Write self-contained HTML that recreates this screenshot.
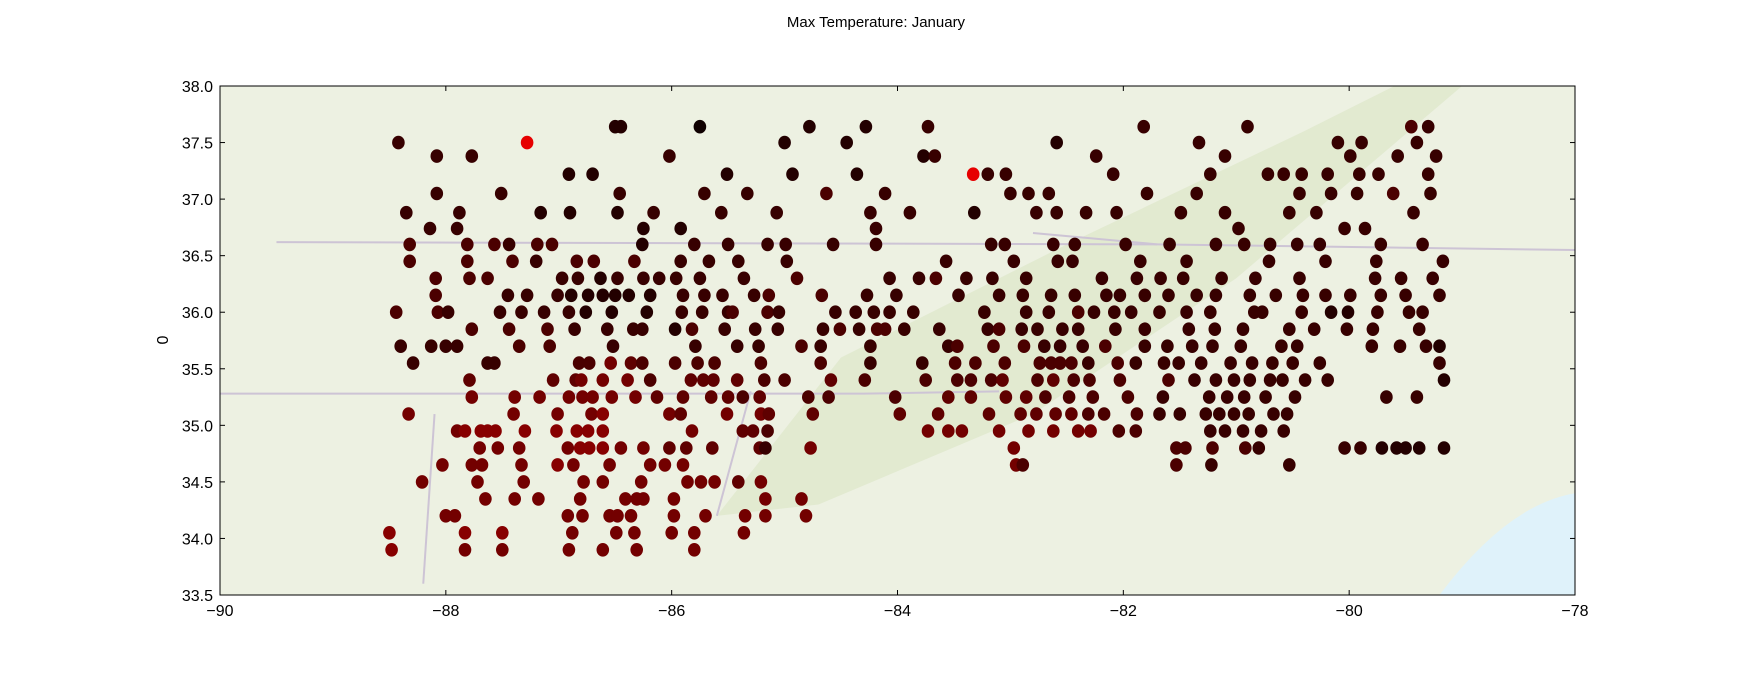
<!DOCTYPE html>
<html><head><meta charset="utf-8">
<style>
html,body{margin:0;padding:0;background:#fff;}
svg{display:block;font-family:"Liberation Sans",sans-serif;}
</style></head>
<body>
<svg id="chart" width="1750" height="682" viewBox="0 0 1750 682" xmlns="http://www.w3.org/2000/svg">
<rect width="1750" height="682" fill="#ffffff"/>
<text x="876" y="27" font-size="15" text-anchor="middle" fill="#000">Max Temperature: January</text>
<g id="mapbg"></g>
<g id="points"></g>
<g id="axes"></g>
</svg>
<script>
const xTicks = [-90, -88, -86, -84, -82, -80, -78];
const yTicks = [33.5, 34.0, 34.5, 35.0, 35.5, 36.0, 36.5, 37.0, 37.5, 38.0];
const rowLats = [37.64,37.5,37.38,37.22,37.05,36.88,36.74,36.6,36.45,36.3,36.15,36.0,35.85,35.7,35.55,35.4,35.25,35.1,34.95,34.8,34.65,34.5,34.35,34.2,34.05,33.9];
const rowLons = [
[-86.5,-86.45,-85.75,-84.78,-84.28,-83.73,-81.82,-80.9,-79.45,-79.3],
[-88.42,-87.28,-85.0,-84.45,-82.59,-81.33,-80.1,-79.89,-79.4],
[-88.08,-87.77,-86.02,-83.77,-83.67,-82.24,-81.1,-79.57,-79.23,-79.99],
[-86.91,-86.7,-85.51,-84.93,-84.36,-83.33,-83.2,-83.04,-82.09,-81.23,-80.72,-80.58,-80.42,-80.19,-79.91,-79.74,-79.3],
[-87.51,-88.08,-86.46,-85.71,-85.33,-84.63,-84.11,-83.0,-82.84,-82.66,-81.79,-81.35,-80.44,-80.16,-79.93,-79.61,-79.28],
[-88.35,-87.88,-87.16,-86.9,-86.48,-86.16,-85.56,-85.07,-84.24,-83.89,-83.32,-82.77,-82.59,-82.33,-82.06,-81.49,-81.1,-80.53,-80.29,-79.43],
[-88.14,-87.9,-86.25,-85.92,-84.19,-80.98,-80.04,-79.86],
[-88.32,-87.81,-87.57,-87.44,-87.19,-87.06,-86.26,-85.8,-85.5,-85.15,-84.99,-84.57,-84.19,-83.17,-83.05,-82.62,-82.43,-81.98,-81.59,-81.18,-80.93,-80.7,-80.46,-80.26,-79.72,-79.35],
[-88.32,-87.81,-87.41,-87.2,-86.84,-86.69,-86.33,-85.92,-85.67,-85.41,-84.98,-83.57,-82.97,-82.58,-82.45,-81.85,-81.44,-80.71,-80.21,-79.76,-79.17],
[-88.09,-87.79,-87.63,-86.97,-86.83,-86.63,-86.48,-86.25,-86.11,-85.96,-85.75,-85.36,-84.89,-84.07,-83.81,-83.66,-83.39,-83.16,-82.86,-82.19,-81.88,-81.67,-81.47,-81.13,-80.83,-80.44,-79.77,-79.54,-79.26],
[-88.09,-87.45,-87.28,-87.01,-86.89,-86.74,-86.61,-86.5,-86.38,-86.19,-85.9,-85.71,-85.55,-85.27,-85.14,-84.67,-84.27,-84.01,-83.46,-83.1,-82.89,-82.64,-82.43,-82.15,-82.03,-81.81,-81.6,-81.35,-81.18,-80.88,-80.65,-80.41,-80.21,-79.99,-79.72,-79.5,-79.2],
[-88.44,-88.07,-87.98,-87.52,-87.33,-87.13,-86.91,-86.76,-86.53,-86.22,-85.91,-85.73,-85.5,-85.46,-85.15,-85.05,-84.55,-84.37,-84.21,-84.07,-83.86,-83.23,-82.86,-82.66,-82.4,-82.26,-82.08,-81.93,-81.68,-81.44,-81.23,-80.84,-80.77,-80.42,-80.16,-80.01,-79.75,-79.47,-79.35],
[-87.77,-87.44,-87.1,-86.86,-86.57,-86.34,-86.26,-85.97,-85.82,-85.53,-85.26,-85.06,-84.66,-84.51,-84.34,-84.18,-84.11,-83.94,-83.63,-83.2,-83.1,-82.9,-82.76,-82.54,-82.4,-82.07,-81.81,-81.42,-81.19,-80.94,-80.53,-80.31,-80.02,-79.79,-79.38],
[-88.4,-88.13,-88.0,-87.9,-87.35,-87.08,-86.52,-85.79,-85.42,-85.23,-84.85,-84.68,-84.24,-83.55,-83.47,-83.15,-82.88,-82.7,-82.56,-82.36,-82.16,-81.81,-81.61,-81.39,-81.21,-80.96,-80.6,-80.46,-79.8,-79.55,-79.32,-79.2],
[-88.29,-87.63,-87.57,-86.82,-86.73,-86.54,-86.36,-86.26,-85.97,-85.77,-85.62,-85.21,-84.68,-84.24,-83.78,-83.49,-83.31,-83.05,-82.74,-82.64,-82.56,-82.46,-82.31,-82.05,-81.89,-81.64,-81.51,-81.31,-81.05,-80.86,-80.68,-80.5,-80.26,-79.2],
[-87.79,-87.05,-86.85,-86.8,-86.61,-86.39,-86.19,-85.83,-85.72,-85.63,-85.42,-85.18,-85.0,-84.59,-84.29,-83.75,-83.47,-83.35,-83.17,-83.07,-82.76,-82.62,-82.44,-82.3,-82.03,-81.6,-81.37,-81.18,-81.02,-80.88,-80.7,-80.59,-80.39,-80.19,-79.16],
[-87.77,-87.39,-87.17,-86.91,-86.79,-86.7,-86.53,-86.32,-86.13,-85.9,-85.65,-85.5,-85.37,-85.22,-84.79,-84.61,-84.02,-83.55,-83.35,-83.04,-82.86,-82.69,-82.48,-82.27,-81.96,-81.65,-81.24,-81.08,-80.93,-80.74,-80.48,-79.67,-79.4],
[-88.33,-87.4,-87.01,-86.71,-86.61,-86.02,-85.92,-85.51,-85.21,-85.14,-84.75,-83.98,-83.64,-83.19,-82.91,-82.77,-82.6,-82.46,-82.31,-82.17,-81.88,-81.68,-81.5,-81.27,-81.15,-81.02,-80.89,-80.67,-80.55],
[-87.9,-87.83,-87.69,-87.63,-87.56,-87.3,-87.02,-86.84,-86.74,-86.61,-85.82,-85.37,-85.28,-85.15,-83.73,-83.55,-83.43,-83.1,-82.84,-82.62,-82.4,-82.29,-82.04,-81.89,-81.23,-81.1,-80.94,-80.78,-80.58],
[-87.7,-87.54,-87.35,-86.92,-86.81,-86.73,-86.61,-86.45,-86.25,-86.02,-85.87,-85.64,-85.22,-85.17,-84.77,-82.97,-81.53,-81.45,-81.21,-80.92,-80.8,-80.04,-79.9,-79.71,-79.58,-79.5,-79.38,-79.16],
[-88.03,-87.77,-87.68,-87.33,-87.01,-86.87,-86.55,-86.19,-86.06,-85.9,-82.95,-82.89,-81.53,-81.22,-80.53],
[-88.21,-87.72,-87.31,-86.78,-86.61,-86.27,-85.86,-85.74,-85.62,-85.41,-85.21],
[-87.65,-87.39,-87.18,-86.81,-86.41,-86.31,-86.25,-85.98,-85.17,-84.85],
[-88.0,-87.92,-86.92,-86.79,-86.55,-86.48,-86.36,-85.98,-85.7,-85.35,-85.17,-84.81],
[-88.5,-87.83,-87.5,-86.88,-86.49,-86.33,-86.0,-85.8,-85.36],
[-88.48,-87.83,-87.5,-86.91,-86.61,-86.31,-85.8]
];
const rowTemps = [
"1101122232","291112222","2221222222","11111922222222222","22222322222222232",
"22111222221222222222","22112222","33323312222222222222222222","333233322222222222222",
"33322122222232232222222222222","3222111111222233222222222222222222222",
"3322222111222332222222223222222222112","33322221322223233222322222222222222",
"22223322223222333222322222222221122","22233543333332233333332322222222222",
"44455534444334333334343333222222221","555555554444343334444333322222222",
"55556545544444444433322222222","56666666665443555555553322222",
"5555666554444255333322211111","555565555553322","55555555545","5555555555",
"555555555555","666555555","6555555"
];
const X0=220,X1=1575,Y0=86,Y1=595;
function xs(v){return X0+(v-(-90))/12*(X1-X0);}
function ys(v){return Y1-(v-33.5)/4.5*(Y1-Y0);}
const NS="http://www.w3.org/2000/svg";
function mk(tag,attrs,parent){const e=document.createElementNS(NS,tag);for(const k in attrs)e.setAttribute(k,attrs[k]);parent.appendChild(e);return e;}

const bg=document.getElementById('mapbg');
const land=mk('rect',{x:X0,y:Y0,width:X1-X0,height:Y1-Y0,fill:'#edf1e2'},bg);


const ridge=mk('path',{d:`M ${xs(-85.6)} ${ys(34.2)} L ${xs(-84.5)} ${ys(35.6)} L ${xs(-82.5)} ${ys(36.6)} L ${xs(-80.4)} ${ys(37.6)} L ${xs(-79.6)} ${ys(38)} L ${xs(-79)} ${ys(38)} L ${xs(-81)} ${ys(36.3)} L ${xs(-82.8)} ${ys(35.1)} L ${xs(-84.7)} ${ys(34.3)} Z`,fill:'#dde7c9',opacity:0.7},bg);


const ocean=mk('path',{d:`M ${xs(-79.2)} ${Y1} Q ${xs(-78.6)} ${ys(34.3)} ${X1} ${ys(34.4)} L ${X1} ${Y1} Z`,fill:'#dff2fa'},bg);


const borders=[[[-89.5,36.62],[-81.7,36.6],[-78,36.55]],[[-90,35.28],[-84.3,35.28],[-83.1,35.3]],[[-88.2,33.6],[-88.1,35.1]],[[-85.6,34.2],[-85.3,35.3]],[[-82.8,36.7],[-81.7,36.6]]];
for(const b of borders){
  const p=mk('polyline',{points:b.map(q=>xs(q[0])+','+ys(q[1])).join(' '),fill:'none',stroke:'#cdc4d5',"stroke-width":2},bg);
  
  
}

const pg=document.getElementById('points');
for(let i=0;i<rowLats.length;i++){
  const lons=rowLons[i], ts=rowTemps[i];
  for(let j=0;j<lons.length;j++){
    const d=parseInt(ts[j]||'2',10);
    const r=d>=8?230:Math.round(15+d*20);
    const c=mk('ellipse',{cx:xs(lons[j]).toFixed(1),cy:ys(rowLats[i]).toFixed(1),rx:6.3,ry:6.8,fill:`rgb(${r},0,0)`},pg);
    
    
  }
}

const ax=document.getElementById('axes');
const frame=mk('rect',{x:X0,y:Y0,width:X1-X0,height:Y1-Y0,fill:'none',stroke:'#000',"stroke-width":1},ax);


for(const t of xTicks){
  const x=xs(t);
  mk('line',{x1:x,y1:Y1,x2:x,y2:Y1-5,stroke:'#000'},ax);
  mk('line',{x1:x,y1:Y0,x2:x,y2:Y0+5,stroke:'#000'},ax);
  const tx=mk('text',{x:x,y:Y1+21,"font-size":16,"text-anchor":"middle",fill:'#000'},ax);
  tx.textContent=(t<0?'\u2212':'')+Math.abs(t);
  
  
}
for(const t of yTicks){
  const y=ys(t);
  mk('line',{x1:X0,y1:y,x2:X0+5,y2:y,stroke:'#000'},ax);
  mk('line',{x1:X1,y1:y,x2:X1-5,y2:y,stroke:'#000'},ax);
  const tx=mk('text',{x:X0-7,y:y+6,"font-size":16,"text-anchor":"end",fill:'#000'},ax);
  tx.textContent=t.toFixed(1);
  
  
}
const yl=mk('text',{x:168,y:340,"font-size":16,"text-anchor":"middle",fill:'#000',transform:'rotate(-90 168 340)'},ax);
yl.textContent='0';


</script>
</body></html>
